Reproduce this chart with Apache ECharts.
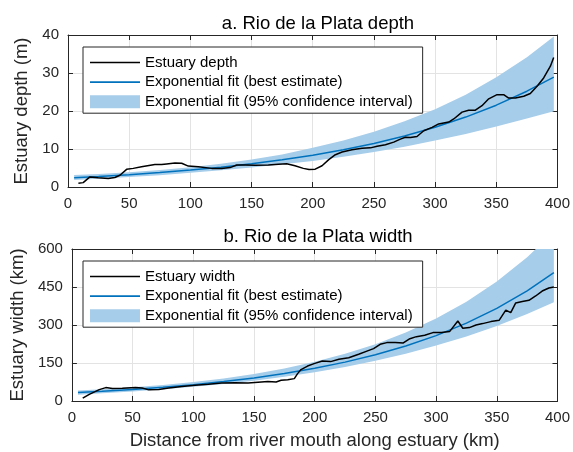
<!DOCTYPE html>
<html>
<head>
<meta charset="utf-8">
<script src="https://cdn.jsdelivr.net/npm/echarts@6/dist/echarts.min.js"></script>
<style>
  html, body { margin: 0; padding: 0; background: #ffffff; }
  #chart { width: 573px; height: 452px; }
</style>
</head>
<body>
<div id="chart"></div>
<script>
// Tick positions for the shared distance axis and the two value axes
const distanceTicks = [0, 50, 100, 150, 200, 250, 300, 350, 400];
const depthTicks = [0, 10, 20, 30, 40];
const widthTicks = [0, 150, 300, 450, 600];

// Measured estuary depth (m) along the estuary (km from the river mouth)
const depthKm = [8.5, 12.4, 17.9, 24.7, 32.9, 38.3, 42.4, 47.9, 53.3, 60.1, 71, 76.5, 80.6, 87.4, 92.9,
  98.3, 106.5, 117.4, 125.6, 132.4, 137.9, 144.7, 152.8, 163.7, 171.9, 178.7, 185.5, 192.3, 197, 202,
  207.6, 213.1, 218.5, 224, 232.1, 240.3, 247.1, 252.6, 259.4, 266.2, 271.6, 275.7, 279.8, 285.2, 290.7,
  297.5, 302.9, 311.1, 315.2, 322, 327.4, 332.9, 338.3, 343.8, 350.6, 356, 360.1, 365.6, 372.4, 377.8,
  383.3, 388.7, 394.2, 396.9];
const depthM = [1.0, 1.15, 2.65, 2.45, 2.25, 2.5, 3.1, 4.65, 4.9, 5.35, 5.9, 5.9, 6.07, 6.3, 6.25,
  5.5, 5.35, 4.9, 4.9, 5.1, 5.8, 5.8, 5.7, 5.8, 6.0, 6.1, 5.6, 4.9, 4.6, 4.7,
  5.6, 7.2, 8.5, 9.2, 9.8, 10.2, 10.3, 10.7, 11.1, 11.8, 12.6, 13.1, 13.0, 13.3, 14.8,
  15.7, 16.6, 17.1, 17.9, 19.7, 20.2, 20.2, 21.4, 23.2, 24.3, 24.3, 23.4, 23.4, 23.9, 24.6,
  26.5, 28.7, 31.8, 34.1];

// Measured estuary width (km) along the estuary (km from the river mouth)
const widthPosKm = [8.9, 14.3, 22.5, 27.9, 33.4, 41.5, 52.4, 57.9, 63.3, 71.5, 79.7, 90.6, 101.5, 112.4,
  123.3, 134.2, 145.1, 153.3, 161.4, 168.2, 172.3, 177.8, 183.2, 185.9, 188.7, 194.1, 199.5, 206.3,
  213.1, 219.9, 228, 236.2, 243, 248.5, 253.9, 259.4, 266.2, 273, 278.4, 283.8, 290.6, 297.4, 304.3,
  311.1, 317.9, 322, 327.4, 332.9, 338.3, 345.1, 351.9, 357.4, 361.5, 365.6, 371, 376.5, 382, 387.4,
  392.9, 397];
const widthKm = [11, 26.4, 45, 52.9, 49, 50.5, 53, 51.3, 44, 45.5, 51.3, 56.8, 62, 65.9,
  71, 72.4, 71, 73.8, 76.6, 75.3, 81.7, 84.3, 88.3, 108, 124, 138, 147.6, 158,
  155.5, 164.6, 171, 184.4, 197, 206.8, 223.8, 230.5, 230.5, 229, 246, 254, 259.4, 270, 270,
  274, 315.8, 287, 289.8, 300, 305.5, 313.4, 318.6, 359, 349, 387, 392.4, 397.5, 414.5, 434,
  446, 450];

// Exponential fits: best estimate and 95% confidence bounds
const fitKm = [5, 25, 50, 75, 100, 125, 150, 175, 200, 225, 250, 275, 300, 325, 350, 375, 397];
const depthFit = [2.45, 2.78, 3.25, 3.81, 4.46, 5.22, 6.11, 7.15, 8.37, 9.80, 11.47, 13.42, 15.72, 18.40, 21.53, 25.21, 28.9];
const depthUpper = [3.14, 3.45, 3.90, 4.50, 5.22, 6.11, 7.21, 8.58, 10.30, 12.25, 14.57, 17.31, 20.44, 24.29, 28.85, 34.16, 39.59];
const depthLower = [1.84, 2.17, 2.60, 3.12, 3.75, 4.41, 5.16, 5.97, 6.86, 7.94, 9.18, 10.60, 12.26, 13.98, 15.93, 18.02, 19.94];
const widthFit = [33.3, 38.3, 45.6, 54.2, 64.5, 76.7, 91.2, 108.5, 129.0, 153.5, 182.5, 217.1, 258.2, 307.2, 365.4, 434.6, 506.3];
const widthUpper = [41.3, 46.3, 54.3, 63.4, 74.8, 89.0, 106.7, 128.0, 154.8, 186.5, 224.5, 270.3, 325.3, 391.7, 471.4, 567.2, 668.3];
const widthLower = [24.6, 30.3, 37.4, 46.1, 56.1, 67.5, 80.3, 95.5, 113.5, 134.3, 158.8, 186.7, 219.5, 255.0, 296.0, 343.3, 389.9];

const FONT = '"Liberation Sans", Arial, Helvetica, sans-serif';
const AXIS_COLOR = '#262626';
const GRID_COLOR = '#e3e3e3';
const DATA_COLOR = '#000000';
const FIT_COLOR = '#0072bd';
const BAND_COLOR = '#a6cdea';

const NAME_DATA_DEPTH = 'Estuary depth';
const NAME_DATA_WIDTH = 'Estuary width';
const NAME_FIT = 'Exponential fit (best estimate)';
const NAME_BAND = 'Exponential fit (95% confidence interval)';

// Thin horizontal bar used as the legend key for line series
const LINE_KEY = 'path://M0,0H50V1.7H0Z';

const pairs = (xs, ys) => xs.map((x, i) => [x, ys[i]]);

function tickRange(ticks) {
  return { min: ticks[0], max: ticks[ticks.length - 1], interval: ticks[1] - ticks[0] };
}

function mainAxis(gridIndex, ticks, extra) {
  return Object.assign({
    type: 'value',
    gridIndex: gridIndex,
    ...tickRange(ticks),
    axisLine: { show: true, onZero: false, lineStyle: { color: AXIS_COLOR, width: 1 } },
    axisTick: { show: true, inside: true, length: 5, lineStyle: { color: AXIS_COLOR } },
    axisLabel: { color: AXIS_COLOR, fontSize: 15, fontFamily: FONT, margin: 9 },
    splitLine: { show: true, lineStyle: { color: GRID_COLOR, width: 1 } }
  }, extra || {});
}

function mirrorAxis(gridIndex, ticks, position) {
  return {
    type: 'value',
    gridIndex: gridIndex,
    position: position,
    ...tickRange(ticks),
    axisLine: { show: true, onZero: false, lineStyle: { color: AXIS_COLOR, width: 1 } },
    axisTick: { show: true, inside: true, length: 5, lineStyle: { color: AXIS_COLOR } },
    axisLabel: { show: false },
    splitLine: { show: false }
  };
}

// Filled band between the lower and upper bound curves, clipped to the plot area
function bandSeries(name, xAxisIndex, yAxisIndex, upper, lower) {
  return {
    type: 'custom',
    name: name,
    xAxisIndex: xAxisIndex,
    yAxisIndex: yAxisIndex,
    itemStyle: { color: BAND_COLOR },
    silent: true,
    z: 1,
    data: [[fitKm[0], lower[0]]],
    renderItem: function (params, api) {
      const pts = [];
      for (let i = 0; i < fitKm.length; i++) pts.push(api.coord([fitKm[i], upper[i]]));
      for (let i = fitKm.length - 1; i >= 0; i--) pts.push(api.coord([fitKm[i], lower[i]]));
      const cs = params.coordSys;
      return {
        type: 'polygon',
        shape: { points: pts },
        style: { fill: BAND_COLOR, stroke: null },
        clipPath: { type: 'rect', shape: { x: cs.x, y: cs.y, width: cs.width, height: cs.height } }
      };
    }
  };
}

function lineSeries(name, xAxisIndex, yAxisIndex, data, color, z) {
  return {
    type: 'line',
    name: name,
    xAxisIndex: xAxisIndex,
    yAxisIndex: yAxisIndex,
    data: data,
    symbol: 'none',
    showSymbol: false,
    smooth: false,
    clip: true,
    z: z,
    lineStyle: { color: color, width: 1.5 },
    itemStyle: { color: color },
    emphasis: { disabled: true }
  };
}

function legendBlock(top, dataName) {
  return {
    orient: 'vertical',
    left: 83,
    top: top,
    padding: [7, 10, 3, 7],
    itemWidth: 50,
    itemHeight: 13,
    itemGap: 2.6,
    backgroundColor: '#ffffff',
    borderColor: AXIS_COLOR,
    borderWidth: 1,
    borderRadius: 0,
    selectedMode: false,
    textStyle: { color: '#000000', fontSize: 15, fontFamily: FONT, lineHeight: 17 },
    data: [
      { name: dataName, icon: LINE_KEY },
      { name: NAME_FIT, icon: LINE_KEY },
      { name: NAME_BAND, icon: 'rect' }
    ]
  };
}

const chart = echarts.init(document.getElementById('chart'), null, { renderer: 'canvas' });

const titleStyle = { color: '#000000', fontSize: 18.5, fontWeight: 'normal', fontFamily: FONT };

chart.setOption({
  animation: false,
  backgroundColor: '#ffffff',
  title: [
    { text: 'a. Rio de la Plata depth', left: 313, top: 9, textAlign: 'center', textStyle: titleStyle },
    { text: 'b. Rio de la Plata width', left: 313, top: 222, textAlign: 'center', textStyle: titleStyle }
  ],
  grid: [
    { left: 68, top: 35, width: 490, height: 152, show: false },
    { left: 68, top: 249, width: 490, height: 152, show: false }
  ],
  xAxis: [
    mainAxis(0, distanceTicks, { position: 'bottom' }),
    mirrorAxis(0, distanceTicks, 'top'),
    mainAxis(1, distanceTicks, {
      position: 'bottom',
      name: 'Distance from river mouth along estuary (km)',
      nameLocation: 'middle',
      nameGap: 30,
      nameTextStyle: { color: AXIS_COLOR, fontSize: 18.5, fontFamily: FONT }
    }),
    mirrorAxis(1, distanceTicks, 'top')
  ],
  yAxis: [
    mainAxis(0, depthTicks, {
      position: 'left',
      name: 'Estuary depth (m)',
      nameLocation: 'middle',
      nameGap: 34,
      nameTextStyle: { color: AXIS_COLOR, fontSize: 18.5, fontFamily: FONT }
    }),
    mirrorAxis(0, depthTicks, 'right'),
    mainAxis(1, widthTicks, {
      position: 'left',
      name: 'Estuary width (km)',
      nameLocation: 'middle',
      nameGap: 34,
      nameTextStyle: { color: AXIS_COLOR, fontSize: 18.5, fontFamily: FONT }
    }),
    mirrorAxis(1, widthTicks, 'right')
  ],
  legend: [
    legendBlock(47, NAME_DATA_DEPTH),
    legendBlock(261, NAME_DATA_WIDTH)
  ],
  series: [
    bandSeries(NAME_BAND, 0, 0, depthUpper, depthLower),
    lineSeries(NAME_FIT, 0, 0, pairs(fitKm, depthFit), FIT_COLOR, 3),
    lineSeries(NAME_DATA_DEPTH, 0, 0, pairs(depthKm, depthM), DATA_COLOR, 4),
    bandSeries(NAME_BAND, 2, 2, widthUpper, widthLower),
    lineSeries(NAME_FIT, 2, 2, pairs(fitKm, widthFit), FIT_COLOR, 3),
    lineSeries(NAME_DATA_WIDTH, 2, 2, pairs(widthPosKm, widthKm), DATA_COLOR, 4)
  ]
});
</script>
</body>
</html>
